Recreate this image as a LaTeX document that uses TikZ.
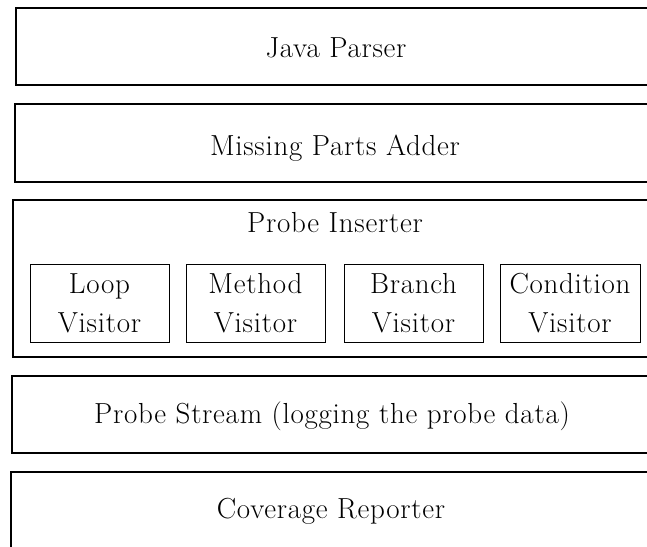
\documentclass[tikz,border=0pt]{standalone}
\usepackage{fontspec}
\setmainfont[LetterSpace=2.5]{Latin Modern Roman}
\begin{document}
\begin{tikzpicture}[x=1pt,y=-1pt,
  layer/.style={draw=black,line width=1.6pt},
  visitor/.style={draw=black,line width=1pt,inner sep=0pt,minimum height=78},
  lbl/.style={anchor=base,inner sep=0pt,font=\fontsize{29}{38}\selectfont}]
\useasboundingbox (0,0) rectangle (647,546);
% stacked layers, open towards the right edge
\draw[layer] (660,8) -- (16,8) -- (16,85) -- (660,85);
\draw[layer] (660,104) -- (15,104) -- (15,182) -- (660,182);
\draw[layer] (660,200) -- (13,200) -- (13,357) -- (660,357);
\draw[layer] (660,376) -- (12,376) -- (12,453) -- (660,453);
\draw[layer] (660,472) -- (11,472) -- (11,560);
% layer titles
\node[lbl] (parser) at (336,57) {Java Parser};
\node[lbl] (adder) at (335,155) {Missing Parts Adder};
\node[lbl] (inserter) at (335,232) {Probe Inserter};
\node[lbl] (stream) at (332,423) {Probe Stream (logging the probe data)};
\node[lbl] (reporter) at (331,518) {Coverage Reporter};
% visitors inside the probe inserter
\node[visitor,minimum width=139] (loop) at (99.5,303) {};
\node[visitor,minimum width=139] (method) at (255.5,303) {};
\node[visitor,minimum width=139] (branch) at (413.5,303) {};
\node[visitor,minimum width=140] (condition) at (570,303) {};
\node[lbl] (loopA) at (99.5,293) {Loop};
\node[lbl] (loopB) at (99.5,332) {Visitor};
\node[lbl] (methodA) at (255.5,293) {Method};
\node[lbl] (methodB) at (255.5,332) {Visitor};
\node[lbl] (branchA) at (413.5,293) {Branch};
\node[lbl] (branchB) at (413.5,332) {Visitor};
\node[lbl] (conditionA) at (570,293) {Condition};
\node[lbl] (conditionB) at (570,332) {Visitor};
\end{tikzpicture}
\end{document}
